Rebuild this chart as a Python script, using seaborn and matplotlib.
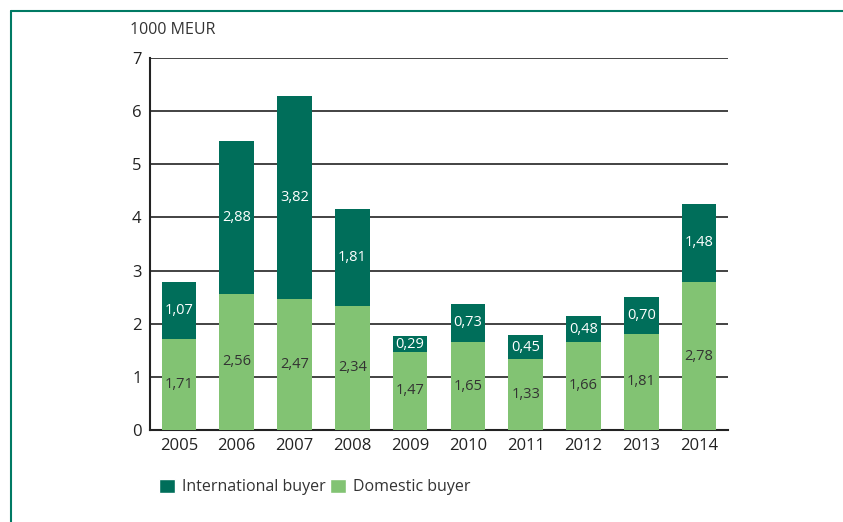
import matplotlib
matplotlib.use("Agg")
import matplotlib.pyplot as plt
import seaborn as sns
import pandas as pd
from matplotlib.lines import Line2D
from matplotlib.patches import Patch

years = ["2005", "2006", "2007", "2008", "2009", "2010", "2011", "2012", "2013", "2014"]
domestic = [1.71, 2.56, 2.47, 2.34, 1.47, 1.65, 1.33, 1.66, 1.81, 2.78]
international = [1.07, 2.88, 3.82, 1.81, 0.29, 0.73, 0.45, 0.48, 0.70, 1.48]

dark = "#006e5a"
light = "#82c373"

sns.set_theme(style="white")
plt.rcParams["font.family"] = ["Open Sans", "DejaVu Sans"]

df = pd.DataFrame({"year": years, "domestic": domestic, "international": international})
df["total"] = df["domestic"] + df["international"]

fig = plt.figure(figsize=(8.43, 5.22), dpi=100)
ax = fig.add_axes([150/843, 1-430/522, (728-150)/843, (430-58)/522])

sns.barplot(data=df, x="year", y="total", color=dark, saturation=1, width=0.6, ax=ax,
            zorder=3, linewidth=0)
sns.barplot(data=df, x="year", y="domestic", color=light, saturation=1, width=0.6, ax=ax,
            zorder=4, linewidth=0)

for i, (d, it) in enumerate(zip(domestic, international)):
    ax.text(i, d/2, f"{d:.2f}".replace(".", ","), ha="center", va="center",
            fontsize=10.5, color="#333333", zorder=5)
    ax.text(i, d + it/2, f"{it:.2f}".replace(".", ","), ha="center", va="center",
            fontsize=10.5, color="white", zorder=5)

ax.set_xlim(-0.5, 9.5)
ax.set_ylim(0, 7)
ax.set_yticks(range(0, 8))
ax.set_xlabel("")
ax.set_ylabel("")
ax.yaxis.grid(True, color="#222222", linewidth=1.2, zorder=1)
ax.set_axisbelow(True)
for s in ["top", "right"]:
    ax.spines[s].set_visible(False)
for s in ["left", "bottom"]:
    ax.spines[s].set_color("#222222")
    ax.spines[s].set_linewidth(1.5)
ax.tick_params(axis="both", labelsize=12, colors="#222222", length=0, pad=6)
ax.set_xticks([i + 0.5 for i in range(9)], minor=True)
ax.tick_params(axis="x", which="minor", direction="in", length=7, width=1.3, color="#222222")

fig.text(130/843, 1-30/522, "1000 MEUR", fontsize=11.5, color="#333333", va="center", ha="left")

handles = [Patch(facecolor=dark, label="International buyer"),
           Patch(facecolor=light, label="Domestic buyer")]
fig.legend(handles=handles, loc="center left", bbox_to_anchor=(145/843, 1-487/522),
           ncol=2, frameon=False, fontsize=11.5, handlelength=1.0, handleheight=1.0,
           handletextpad=0.4, columnspacing=0.3, labelcolor="#333333")

frame = "#007a64"
fig.add_artist(Line2D([11/843, 1], [1-11/522, 1-11/522], color=frame, lw=1.5, transform=fig.transFigure))
fig.add_artist(Line2D([11/843, 11/843], [0, 1-11/522], color=frame, lw=1.5, transform=fig.transFigure))

fig.savefig("out.png", dpi=100)
